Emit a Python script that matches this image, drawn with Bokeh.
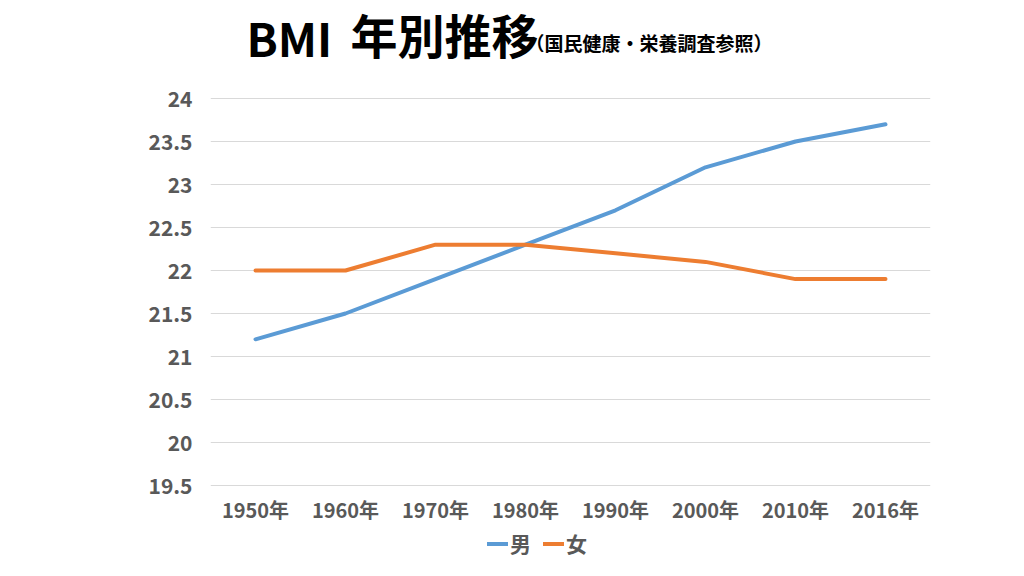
from bokeh.plotting import figure
from bokeh.models import Range1d, FactorRange, FixedTicker, Legend, LegendItem, Label
from bokeh.core.properties import value
from bokeh.embed import file_html
from bokeh.resources import INLINE

years = ["1950年", "1960年", "1970年", "1980年", "1990年", "2000年", "2010年", "2016年"]
male = [21.2, 21.5, 21.9, 22.3, 22.7, 23.2, 23.5, 23.7]
female = [22.0, 22.0, 22.3, 22.3, 22.2, 22.1, 21.9, 21.9]
y_ticks = [19.5, 20, 20.5, 21, 21.5, 22, 22.5, 23, 23.5, 24]
y_tick_labels = ["19.5", "20", "20.5", "21", "21.5", "22", "22.5", "23", "23.5", "24"]
title_bmi = "BMI"
title_main = "年別推移"
title_sub = "（国民健康・栄養調査参照）"
series_names = ["男", "女"]
colors = ["#5B9BD5", "#ED7D31"]

FONT = "Noto Sans CJK JP"
GRAY = "#595959"

# The frame covers the full canvas height so that title, category labels and
# legend (all annotations) are drawn inside it; the grid uses only y_ticks.
Y_MIN, Y_MAX = y_ticks[0], y_ticks[-1]
p = figure(width=1008, height=560, x_range=FactorRange(*years),
           y_range=Range1d(Y_MIN - 75 / 86, Y_MAX + 98 / 86),
           output_backend="svg", toolbar_location=None, title=None,
           min_border_left=210, min_border_right=78, min_border_top=0, min_border_bottom=0)
p.outline_line_color = None
p.background_fill_color = "white"

r_m = p.line(years, male, line_color=colors[0], line_width=4, line_join="round", line_cap="round")
r_f = p.line(years, female, line_color=colors[1], line_width=4, line_join="round", line_cap="round")

# category labels along the bottom of the plotting area
p.text(x=years, y=[Y_MIN] * len(years), text=years, y_offset=24,
       text_font=value(FONT), text_font_style="bold", text_font_size="20px",
       text_color=GRAY, text_align="center", text_baseline="middle")

p.xaxis.visible = False
yax = p.yaxis[0]
yax.ticker = FixedTicker(ticks=y_ticks)
yax.major_label_overrides = {t: l for t, l in zip(y_ticks, y_tick_labels)}
yax.axis_line_color = None
yax.major_tick_line_color = None
yax.minor_tick_line_color = None
yax.major_tick_out = 0
yax.major_tick_in = 0
yax.major_label_text_font = FONT
yax.major_label_text_font_style = "bold"
yax.major_label_text_color = GRAY
yax.major_label_text_font_size = "21px"
yax.major_label_standoff = 18

p.xgrid.grid_line_color = None
p.ygrid.grid_line_color = "#D9D9D9"
p.ygrid.grid_line_width = 1

p.add_layout(Label(x=36, y=524, x_units="screen", y_units="screen", text=title_bmi,
                   text_font=FONT, text_font_style="bold", text_font_size="46px",
                   text_color="black", text_baseline="alphabetic"))
p.add_layout(Label(x=140, y=527, x_units="screen", y_units="screen", text=title_main,
                   text_font=FONT, text_font_style="bold", text_font_size="47px",
                   text_color="black", text_baseline="alphabetic"))
p.add_layout(Label(x=315, y=518, x_units="screen", y_units="screen", text=title_sub,
                   text_font=FONT, text_font_style="bold", text_font_size="19px",
                   text_color="black", text_baseline="alphabetic"))

legend = Legend(items=[LegendItem(label=series_names[0], renderers=[r_m]),
                       LegendItem(label=series_names[1], renderers=[r_f])],
                orientation="horizontal", location=(277, 2),
                label_text_font=FONT, label_text_font_style="bold", label_text_font_size="21px",
                label_text_color=GRAY, glyph_width=21, glyph_height=21, label_standoff=2,
                spacing=12, border_line_color=None, background_fill_alpha=0, padding=0, margin=0)
p.add_layout(legend, "center")

open("out.html", "w").write(file_html(p, INLINE))
